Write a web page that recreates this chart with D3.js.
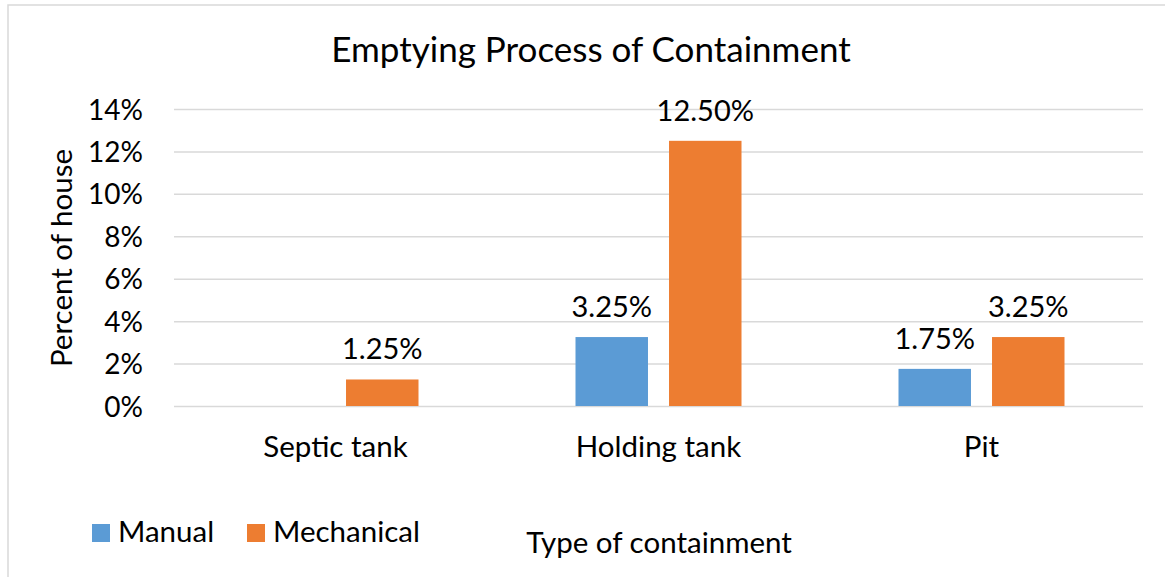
<!DOCTYPE html>
<html>
<head>
<meta charset="utf-8">
<script src="https://cdn.jsdelivr.net/npm/d3@7"></script>
<style>
  body { margin: 0; background: #fff; }
  svg { display: block; font-family: Lato, "Open Sans", sans-serif; }
  .grid line { stroke: #d9d9d9; stroke-width: 1.5; }
  .grid path { display: none; }
  .tick text { fill: #000; }
</style>
</head>
<body>
<svg id="chart" width="1165" height="577"></svg>
<script>
/* ------------------------------- data -------------------------------- */
const categories = ['Septic tank', 'Holding tank', 'Pit'];
const seriesNames = ['Manual', 'Mechanical'];
const manual     = [null, 0.0325, 0.0175];
const mechanical = [0.0125, 0.125, 0.0325];
const yTicks     = [0, 0.02, 0.04, 0.06, 0.08, 0.10, 0.12, 0.14];
const colors     = ['#5b9bd5', '#ed7d31'];

const rows = categories.map((c, i) => ({cat: c, values: [manual[i], mechanical[i]]}));

/* ------------------------------- setup ------------------------------- */
const svg = d3.select('#chart');
const PLOT = {left: 174, right: 1143, top: 109, bottom: 406};
const TXT = 29.5;

// chart frame (left + top edges visible)
svg.append('path')
  .attr('d', 'M8,600 L8,5 L1165,5')
  .attr('fill', 'none')
  .attr('stroke', '#d9d9d9')
  .attr('stroke-width', 1.5);

const x0 = d3.scaleBand().domain(categories).range([PLOT.left, PLOT.right]);
const groupW = 166;
const x1 = d3.scaleBand().domain(seriesNames)
  .range([-groupW / 2, groupW / 2]).paddingInner(0.225);
const y = d3.scaleLinear().domain([0, 0.14]).range([PLOT.bottom, PLOT.top]);

/* ------------------------------- axes -------------------------------- */
svg.append('g')
  .attr('class', 'grid')
  .attr('transform', `translate(${PLOT.left},0)`)
  .call(d3.axisLeft(y).tickValues(yTicks).tickSize(-(PLOT.right - PLOT.left)).tickFormat(''))
  .call(g => g.selectAll('.tick line').attr('stroke', '#d9d9d9'));

svg.append('g')
  .attr('transform', `translate(${PLOT.left},0)`)
  .call(d3.axisLeft(y).tickValues(yTicks).tickSize(0).tickPadding(31).tickFormat(d3.format('.0%')))
  .call(g => g.select('.domain').remove())
  .call(g => g.selectAll('text').attr('font-size', 28).attr('font-family', 'Lato').attr('dy', '0.36em'));

svg.append('g')
  .attr('transform', `translate(0,${PLOT.bottom})`)
  .call(d3.axisBottom(x0).tickSize(0).tickPadding(30))
  .call(g => g.select('.domain').remove())
  .call(g => g.selectAll('text').attr('font-size', TXT).attr('font-family', 'Lato').attr('dy', '0.71em'));

/* ------------------------------- bars -------------------------------- */
const groups = svg.selectAll('g.cat')
  .data(rows)
  .join('g')
  .attr('class', 'cat')
  .attr('transform', d => `translate(${x0(d.cat) + x0.bandwidth() / 2},0)`);

const cells = groups.selectAll('g.bar')
  .data(d => d.values.map((v, i) => ({v, s: seriesNames[i], i})).filter(e => e.v != null))
  .join('g')
  .attr('class', 'bar');

cells.append('rect')
  .attr('x', d => x1(d.s))
  .attr('width', x1.bandwidth())
  .attr('y', d => y(d.v))
  .attr('height', d => y(0) - y(d.v))
  .attr('fill', d => colors[d.i]);

cells.append('text')
  .attr('x', d => x1(d.s) + x1.bandwidth() / 2)
  .attr('y', d => y(d.v) - 20)
  .attr('text-anchor', 'middle')
  .attr('font-size', 29)
  .text(d => d3.format('.2%')(d.v));

/* ------------------------------- titles ------------------------------ */
svg.append('text')
  .attr('x', 591).attr('y', 62)
  .attr('text-anchor', 'middle')
  .attr('font-size', 35)
  .text('Emptying Process of Containment');

svg.append('text')
  .attr('transform', 'translate(72,258) rotate(-90)')
  .attr('text-anchor', 'middle')
  .attr('font-size', TXT)
  .text('Percent of house');

svg.append('text')
  .attr('x', 659).attr('y', 553)
  .attr('text-anchor', 'middle')
  .attr('font-size', TXT)
  .text('Type of containment');

/* ------------------------------- legend ------------------------------ */
const legendX = [92, 247];
const leg = svg.selectAll('g.legend')
  .data(seriesNames)
  .join('g')
  .attr('class', 'legend')
  .attr('transform', (d, i) => `translate(${legendX[i]},524)`);

leg.append('rect').attr('width', 18).attr('height', 18).attr('fill', (d, i) => colors[i]);
leg.append('text').attr('x', 26).attr('y', 18).attr('font-size', TXT).text(d => d);
</script>
</body>
</html>
